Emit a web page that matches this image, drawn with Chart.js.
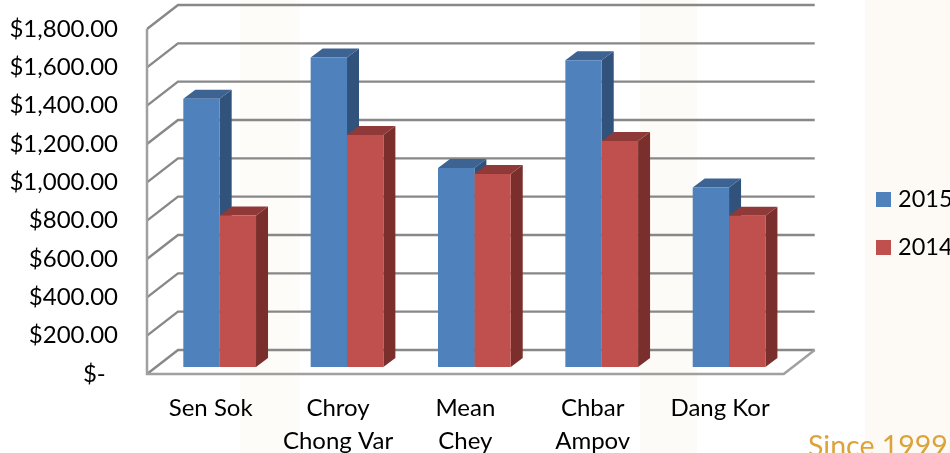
<!DOCTYPE html>
<html>
<head>
<meta charset="utf-8">
<title>Sales by district</title>
<script src="https://cdn.jsdelivr.net/npm/chart.js"></script>
<style>
  html, body { margin: 0; width: 950px; height: 453px; overflow: hidden; }
  body {
    position: relative;
    background:
      linear-gradient(90deg, #fff 0, #fff 240px, #fefcf9 240px, #fefcf9 300px, #fff 300px, #fff 640px, #fdfbf7 640px, #fdfbf7 697px, #fff 697px, #fff 865px, #fdfaf5 865px);
  }
  canvas { position: absolute; left: 0; top: 0; }
  #since { position: absolute; left: 808px; top: 428px; font: 28.5px Lato, sans-serif; color: #dca33a; white-space: nowrap; }
</style>
</head>
<body>
<canvas id="myChart" width="950" height="453"></canvas>
<div id="since">Since 1999</div>
<script>
const categories = [["Sen Sok"], ["Chroy", "Chong Var"], ["Mean", "Chey"], ["Chbar", "Ampov"], ["Dang Kor"]];
const values2015 = [1400, 1615, 1038, 1600, 937];
const values2014 = [790, 1210, 1007, 1179, 789];
const tickLabels = ["$-  ", "$200.00", "$400.00", "$600.00", "$800.00", "$1,000.00", "$1,200.00", "$1,400.00", "$1,600.00", "$1,800.00"];

const fontFamily = "Lato, sans-serif";
const gridColor = "#888888";

// bars sit a little behind the front of the floor, the back wall further behind
const frontShift = { x: -9, y: 7 };
const backShift = { x: 22, y: -17 };
const barDepth = { x: 12, y: -9 };

function poly(c, pts, fill) {
  c.beginPath();
  pts.forEach((p, i) => (i ? c.lineTo(p[0], p[1]) : c.moveTo(p[0], p[1])));
  c.closePath();
  c.fillStyle = fill;
  c.fill();
}

const box3d = {
  id: "box3d",
  afterLayout(chart) {
    // legend goes at a fixed spot, cut by the right edge like the picture
    const legend = chart.legend;
    legend.left = 880.75 - legend.options.labels.padding;
    legend.right = 950;
    legend.top = 163.25;
    legend.bottom = 453;
  },
  beforeDatasetsDraw(chart) {
    const c = chart.ctx;
    const { left, right } = chart.chartArea;
    const y = chart.scales.y;
    const fl = left + frontShift.x, fr = right + frontShift.x;
    const bl = left + backShift.x, br = right + backShift.x;
    c.save();
    c.lineWidth = 2.4;
    c.strokeStyle = gridColor;
    y.ticks.forEach((t) => {
      const py = y.getPixelForValue(t.value);
      c.beginPath();
      c.moveTo(fl, py + frontShift.y);
      c.lineTo(bl, py + backShift.y);
      c.lineTo(br, py + backShift.y);
      c.stroke();
    });
    const zero = y.getPixelForValue(0);
    const top = y.getPixelForValue(1800);
    c.strokeStyle = "#a0a0a0";
    c.lineWidth = 2.5;
    c.beginPath();
    c.moveTo(fl, top + frontShift.y);
    c.lineTo(fl, zero + frontShift.y);
    c.lineTo(fr, zero + frontShift.y);
    c.lineTo(br, zero + backShift.y);
    c.stroke();

    chart.data.datasets.forEach((ds, i) => {
      chart.getDatasetMeta(i).data.forEach((bar) => {
        const hw = bar.width / 2;
        const x0 = bar.x - hw, x1 = bar.x + hw;
        poly(c, [[x1, bar.y], [x1 + barDepth.x, bar.y + barDepth.y], [x1 + barDepth.x, zero + barDepth.y], [x1, zero]], ds.sideColor);
        poly(c, [[x0, bar.y], [x0 + barDepth.x, bar.y + barDepth.y], [x1 + barDepth.x, bar.y + barDepth.y], [x1, bar.y]], ds.topColor);
      });
    });
    c.restore();
  }
};

new Chart(document.getElementById("myChart"), {
  type: "bar",
  data: {
    labels: categories,
    datasets: [
      { label: "2015", data: values2015, backgroundColor: "#4f81bd", sideColor: "#31527b", topColor: "#3c6391" },
      { label: "2014", data: values2014, backgroundColor: "#c0504d", sideColor: "#7b2f2d", topColor: "#8f3a38" }
    ]
  },
  plugins: [box3d],
  options: {
    responsive: false,
    animation: false,
    categoryPercentage: 0.571,
    barPercentage: 1,
    layout: { padding: { top: 22, right: 51 } },
    plugins: {
      tooltip: { enabled: false },
      legend: {
        position: "right",
        align: "start",
        labels: {
          color: "#000",
          font: { family: fontFamily, size: 23.5 },
          usePointStyle: true,
          pointStyle: "rect",
          boxWidth: 5.5,
          boxHeight: 15,
          padding: 24.5
        }
      }
    },
    scales: {
      x: {
        grid: { display: false },
        border: { display: false },
        afterFit(scale) {
          scale.height = 86;
          scale.paddingLeft = 0;
          scale.paddingRight = 0;
        },
        ticks: {
          color: "#000",
          font: { family: fontFamily, size: 24, lineHeight: 1.36 },
          padding: 17,
          labelOffset: frontShift.x,
          autoSkip: false,
          maxRotation: 0
        }
      },
      y: {
        min: 0,
        max: 1800,
        grid: { display: false },
        border: { display: false },
        afterFit(scale) {
          scale.width = 156;
          scale.paddingTop = 0;
          scale.paddingBottom = 0;
        },
        ticks: {
          stepSize: 200,
          color: "#000",
          font: { family: fontFamily, size: 24 },
          padding: 30,
          labelOffset: frontShift.y,
          callback: (v, i) => tickLabels[i]
        }
      }
    }
  }
});
</script>
</body>
</html>
